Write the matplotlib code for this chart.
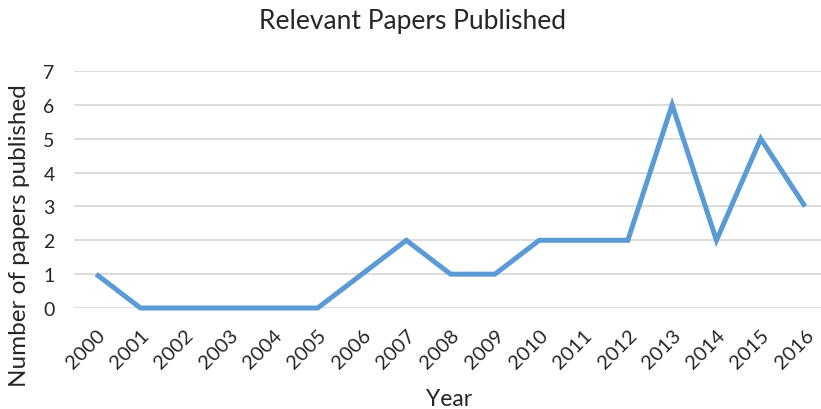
import matplotlib
matplotlib.use("Agg")
import matplotlib.pyplot as plt

years = ["2000", "2001", "2002", "2003", "2004", "2005", "2006", "2007", "2008",
         "2009", "2010", "2011", "2012", "2013", "2014", "2015", "2016"]
papers = [1, 0, 0, 0, 0, 0, 1, 2, 1, 1, 2, 2, 2, 6, 2, 5, 3]
y_ticks = [0, 1, 2, 3, 4, 5, 6, 7]

plt.rcParams["font.family"] = ["Lato", "DejaVu Sans"]
text_color = "#262626"

W, H = 821, 410
fig = plt.figure(figsize=(W / 100, H / 100), dpi=100)
ax = fig.add_axes([74 / W, (H - 309) / H, (W - 74) / W, (309 - 72) / H])

x = list(range(len(years)))
ax.plot(x, papers, color="#5B9BD5", linewidth=3.6, solid_joinstyle="miter",
        solid_capstyle="butt", clip_on=False, zorder=3)

ax.set_xlim(-0.5, 16.36)
ax.set_ylim(0, 7)
ax.set_yticks(y_ticks)
ax.set_xticks(x)
ax.set_xticklabels(years, rotation=45, ha="right", va="top",
                   rotation_mode="anchor")
ax.tick_params(axis="x", length=0, pad=13, labelsize=14.5, colors=text_color)
ax.tick_params(axis="y", length=0, pad=14, labelsize=14, colors=text_color)

ax.grid(axis="y", color="#D9D9D9", linewidth=1.3)
ax.set_axisbelow(True)
for s in ax.spines.values():
    s.set_visible(False)

fig.text(412 / W, 1 - 29 / H, "Relevant Papers Published", ha="center",
         va="baseline", fontsize=19, color=text_color)
fig.text(449 / W, 1 - 406 / H, "Year", ha="center", va="baseline",
         fontsize=16.5, color=text_color)
fig.text(20 / W, 1 - 236 / H, "Number of papers published", ha="center",
         va="center", rotation=90, fontsize=17.5, color=text_color)

fig.savefig("out.png", dpi=100)
